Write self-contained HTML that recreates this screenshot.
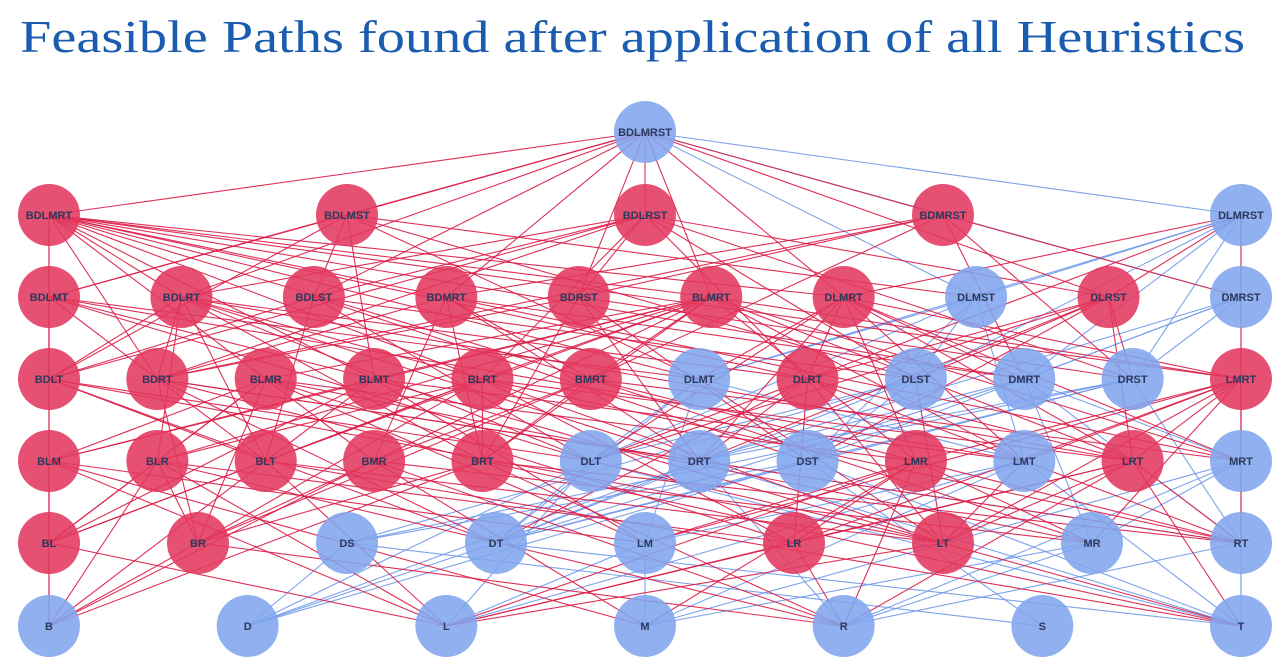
<!DOCTYPE html>
<html><head><meta charset="utf-8"><style>
body{margin:0;background:#fff;width:1285px;height:672px;overflow:hidden}
svg{display:block}
</style></head><body>
<svg id="chart" width="1285" height="672" xmlns="http://www.w3.org/2000/svg">
<text x="20" y="52" font-family="Liberation Serif, serif" font-size="46" fill="#1a5cb0" textLength="1225" lengthAdjust="spacingAndGlyphs">Feasible Paths found after application of all Heuristics</text>
<g id="edges"></g>
<g id="nodes"></g>
</svg>
<script>
const rows = [
 ["BDLMRST"],
 ["BDLMRT","BDLMST","BDLRST","BDMRST","DLMRST"],
 ["BDLMT","BDLRT","BDLST","BDMRT","BDRST","BLMRT","DLMRT","DLMST","DLRST","DMRST"],
 ["BDLT","BDRT","BLMR","BLMT","BLRT","BMRT","DLMT","DLRT","DLST","DMRT","DRST","LMRT"],
 ["BLM","BLR","BLT","BMR","BRT","DLT","DRT","DST","LMR","LMT","LRT","MRT"],
 ["BL","BR","DS","DT","LM","LR","LT","MR","RT"],
 ["B","D","L","M","R","S","T"]
];
const redNodes = ["BDLMRT","BDLMST","BDLRST","BDMRST","BDLMT","BDLRT","BDLST","BDMRT","BDRST","BLMRT","DLMRT","DLRST",
 "BDLT","BDRT","BLMR","BLMT","BLRT","BMRT","DLRT","LMRT","BLM","BLR","BLT","BMR","BRT","LMR","LRT","BL","BR","LR","LT"];
const rowY = [132,215,297,379,461,543,626];
const x0=49, x1=1241, R=31;
const svgNS="http://www.w3.org/2000/svg";
const pos={};
rows.forEach((r,i)=>{r.forEach((n,j)=>{
  const x = r.length===1 ? 645 : x0 + (x1-x0)*j/(r.length-1);
  pos[n]={x:x,y:rowY[i],row:i};
});});
const isSub=(a,b)=>[...a].every(c=>b.includes(c));
const eg=document.getElementById('edges');
const blueE=[],redE=[];
rows.forEach((r,i)=>{r.forEach(n=>{
  for(let k=i+1;k<=Math.min(i+2,rows.length-1);k++){
    rows[k].forEach(m=>{ if(isSub(m,n)){
      const red = redNodes.includes(n)||redNodes.includes(m);
      (red?redE:blueE).push([n,m]);
    }});
  }
});});
[[blueE,"#6f98ea"],[redE,"#dc1a45"]].forEach(([list,col])=>{
  list.forEach(([a,b])=>{
    const l=document.createElementNS(svgNS,'line');
    
    
    l.setAttribute('x1',pos[a].x);l.setAttribute('y1',pos[a].y);
    l.setAttribute('x2',pos[b].x);l.setAttribute('y2',pos[b].y);
    l.setAttribute('stroke',col);l.setAttribute('stroke-width','1.1');
    l.setAttribute('stroke-opacity','0.9');
    eg.appendChild(l);
  });
});
const ng=document.getElementById('nodes');
Object.keys(pos).forEach(n=>{
  const g=document.createElementNS(svgNS,'g');
  
  
  const c=document.createElementNS(svgNS,'circle');
  c.setAttribute('cx',pos[n].x);c.setAttribute('cy',pos[n].y);c.setAttribute('r',R);
  c.setAttribute('fill',redNodes.includes(n)?'#e2385e':'#81a5ee');
  c.setAttribute('fill-opacity','0.88');
  g.appendChild(c);
  const t=document.createElementNS(svgNS,'text');
  t.setAttribute('x',pos[n].x);t.setAttribute('y',pos[n].y+4);
  t.setAttribute('text-anchor','middle');
  t.setAttribute('font-family','Liberation Sans, sans-serif');
  t.setAttribute('font-size','11');t.setAttribute('font-weight','bold');
  t.setAttribute('fill','#2b3a5c');
  t.textContent=n;
  g.appendChild(t);
  ng.appendChild(g);
});
</script>
</body></html>
